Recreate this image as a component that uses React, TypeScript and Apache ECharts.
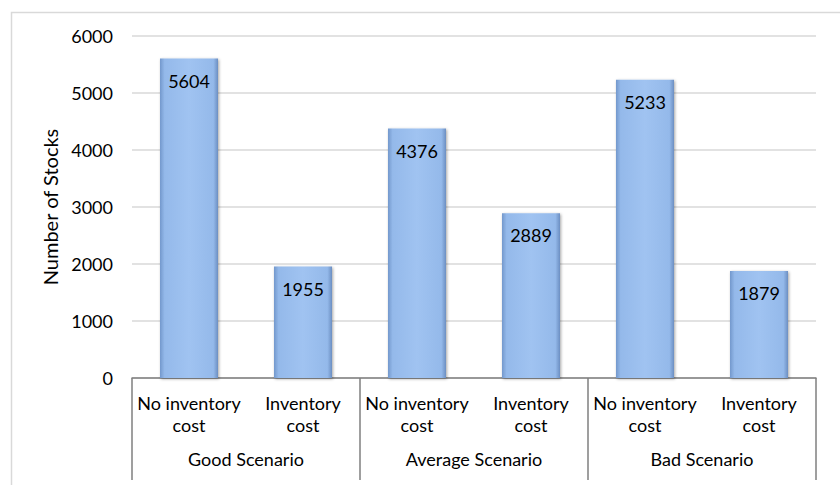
import React, { useEffect, useRef } from "react";
import * as echarts from "echarts";

const subCategories = [
  "No inventory\ncost",
  "Inventory\ncost",
  "No inventory\ncost",
  "Inventory\ncost",
  "No inventory\ncost",
  "Inventory\ncost",
];
const groups = ["Good Scenario", "Average Scenario", "Bad Scenario"];
const stockCounts = [5604, 1955, 4376, 2889, 5233, 1879];
const yTicks = { min: 0, max: 6000, interval: 1000 };
const yName = "Number of Stocks";

const FONT = "Lato";
const FS = 18;

export default function App() {
  const ref = useRef<HTMLDivElement>(null);
  useEffect(() => {
    document.body.style.margin = "0";
    const chart = echarts.init(ref.current!, null, { renderer: "svg" });
    chart.setOption({
      animation: false,
      textStyle: { fontFamily: FONT },
      graphic: [
        {
          type: "rect",
          shape: { x: 11.5, y: 12.5, width: 860, height: 500 },
          style: { fill: "none", stroke: "#d9d9d9", lineWidth: 1.5 },
          silent: true,
          z: -1,
        },
      ],
      grid: { left: 132, right: 24, top: 36, bottom: 107 },
      xAxis: [
        {
          type: "category",
          data: subCategories,
          position: "bottom",
          axisLine: { show: true, lineStyle: { color: "#7f7f7f", width: 1.5 } },
          axisTick: { show: false },
          axisLabel: {
            interval: 0,
            margin: 14,
            fontSize: FS,
            lineHeight: 22,
            color: "#000",
            fontFamily: FONT,
          },
        },
        {
          type: "category",
          data: groups,
          position: "bottom",
          axisLine: { show: false },
          axisTick: {
            show: true,
            length: 102,
            interval: 0,
            lineStyle: { color: "#7f7f7f", width: 1.5 },
          },
          axisLabel: {
            interval: 0,
            margin: 72,
            fontSize: FS,
            color: "#000",
            fontFamily: FONT,
          },
        },
      ],
      yAxis: {
        type: "value",
        min: yTicks.min,
        max: yTicks.max,
        interval: yTicks.interval,
        name: yName,
        nameLocation: "middle",
        nameGap: 70,
        nameTextStyle: { fontSize: 20, color: "#000", fontFamily: FONT },
        axisLine: { show: false },
        axisTick: { show: false },
        axisLabel: {
          fontSize: FS,
          color: "#000",
          margin: 19,
          fontFamily: FONT,
          formatter: (v: number) => String(v),
        },
        splitLine: { lineStyle: { color: "#d9d9d9", width: 1.5 } },
      },
      series: [
        {
          type: "bar",
          xAxisIndex: 0,
          data: stockCounts,
          barWidth: 58,
          itemStyle: {
            color: new echarts.graphic.LinearGradient(0, 0, 1, 0, [
              { offset: 0, color: "#7398cc" },
              { offset: 0.08, color: "#94b9ea" },
              { offset: 0.5, color: "#a0c3f1" },
              { offset: 0.92, color: "#94b9ea" },
              { offset: 1, color: "#6c8fc2" },
            ]),
            shadowBlur: 3,
            shadowColor: "rgba(0,0,0,0.35)",
            shadowOffsetX: 1,
            shadowOffsetY: 1,
          },
          label: {
            show: true,
            position: "insideTop",
            distance: 13,
            fontSize: FS,
            color: "#000",
            fontFamily: FONT,
          },
        },
      ],
    });
    return () => chart.dispose();
  }, []);
  return <div ref={ref} style={{ width: 840, height: 485 }} />;
}
